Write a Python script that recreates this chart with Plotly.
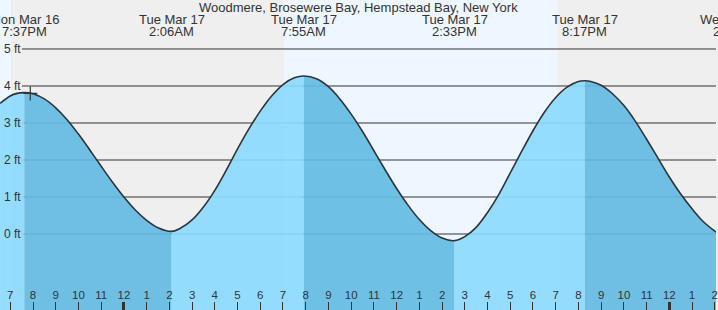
import plotly.graph_objects as go

TITLE = "Woodmere, Brosewere Bay, Hempstead Bay, New York"

# Tide height (ft); time in hours counted from Mon Mar 16 00:00
TIDE_HOURS = [18.55, 19.0, 19.3, 19.617, 20.0, 20.5, 21.0, 21.5, 22.0, 22.5, 23.0, 23.5,
              24.0, 24.5, 25.0, 25.5, 26.1,
              26.5, 27.0, 27.5, 28.0, 28.5, 29.0, 29.5, 30.0, 30.5, 31.0, 31.5, 31.917,
              32.5, 33.0, 33.5, 34.0, 34.5, 35.0, 35.5, 36.0, 36.5, 37.0, 37.5, 38.0, 38.55,
              39.0, 39.5, 40.0, 40.5, 41.0, 41.5, 42.0, 42.5, 43.0, 43.5, 44.0, 44.283,
              44.5, 45.0, 45.5, 46.0, 46.5, 47.0, 47.5, 48.0, 48.5, 49.0, 49.5, 50.1]
TIDE_FT = [3.53, 3.73, 3.80, 3.82, 3.79, 3.65, 3.41, 3.09, 2.70, 2.27, 1.83, 1.40,
           1.00, 0.65, 0.37, 0.17, 0.07,
           0.16, 0.38, 0.73, 1.18, 1.72, 2.30, 2.84, 3.32, 3.73, 4.04, 4.22, 4.27,
           4.19, 3.98, 3.65, 3.24, 2.77, 2.25, 1.73, 1.23, 0.78, 0.39, 0.09, -0.11, -0.18,
           -0.07, 0.18, 0.58, 1.07, 1.65, 2.23, 2.79, 3.29, 3.69, 3.97, 4.12, 4.14,
           4.13, 4.02, 3.79, 3.47, 3.05, 2.56, 2.05, 1.54, 1.08, 0.68, 0.33, 0.03]

# High / low tide events
EXTREME_HOURS = [19.617, 26.1, 31.917, 38.55, 44.283, 50.9]
EXTREME_DAY = ["Mon Mar 16", "Tue Mar 17", "Tue Mar 17", "Tue Mar 17", "Tue Mar 17", "Wed Mar 18"]
EXTREME_TIME = ["7:37PM", "2:06AM", "7:55AM", "2:33PM", "8:17PM", "2:54AM"]

# Daylight periods (sunrise, sunset) in hours
DAYLIGHT = [(7.08, 19.03), (31.05, 43.09)]

# Current-time marker
NOW_HOUR = 19.88
NOW_FT = 3.80

# Axis ticks
HOUR_TICKS = list(range(19, 51))
HOUR_LABELS = ["7", "8", "9", "10", "11", "12", "1", "2", "3", "4", "5", "6",
               "7", "8", "9", "10", "11", "12", "1", "2", "3", "4", "5", "6",
               "7", "8", "9", "10", "11", "12", "1", "2"]
MIDNIGHT_TICKS = [24, 48]
FT_TICKS = [0, 1, 2, 3, 4, 5]
FT_LABELS = ["0 ft", "1 ft", "2 ft", "3 ft", "4 ft", "5 ft"]

# View / style
X_RANGE = [18.548, 50.053]
Y_RANGE = [-2.054, 6.324]
W, H = 718, 310
GRID_START_PX = 22
RISING = "rgba(140,218,255,0.92)"
FALLING = "rgba(100,187,227,0.92)"
DAY_BG = "#eef6ff"
NIGHT_BG = "#efefef"
INK = "#333333"
FONT = "Liberation Sans, Arial, sans-serif"


def frac(t):
    return (t - X_RANGE[0]) / (X_RANGE[1] - X_RANGE[0])


fig = go.Figure()
layout_axes = {}

inside = [t for t in EXTREME_HOURS if X_RANGE[0] < t < X_RANGE[1]]
bounds = [X_RANGE[0]] + inside + [X_RANGE[1]]
floor = Y_RANGE[0] - 1
nseg = len(bounds) - 1
for k in range(nseg):
    axid = "x" if k == 0 else f"x{k + 1}"
    color = RISING if k % 2 == 0 else FALLING
    fig.add_trace(go.Scatter(x=[TIDE_HOURS[0], TIDE_HOURS[-1]], y=[floor, floor],
                             xaxis=axid, yaxis="y", mode="lines", line=dict(width=0),
                             hoverinfo="skip", showlegend=False))
    fig.add_trace(go.Scatter(x=TIDE_HOURS, y=TIDE_FT, xaxis=axid, yaxis="y", mode="lines",
                             line=dict(width=0, shape="spline", simplify=False),
                             fill="tonexty", fillcolor=color,
                             hoverinfo="skip", showlegend=False))
    name = "xaxis" if k == 0 else f"xaxis{k + 1}"
    layout_axes[name] = dict(domain=[frac(bounds[k]), frac(bounds[k + 1])],
                             range=[bounds[k], bounds[k + 1]], anchor="y",
                             visible=False, fixedrange=True)

main_id = nseg + 1
over_id = nseg + 2
main_ax = f"x{main_id}"
over_ax = f"x{over_id}"

fig.add_trace(go.Scatter(x=TIDE_HOURS, y=TIDE_FT, xaxis=main_ax, yaxis="y", mode="lines",
                         line=dict(color=INK, width=1.6, shape="spline", simplify=False),
                         hoverinfo="skip", showlegend=False))
fig.add_trace(go.Scatter(x=[NOW_HOUR], y=[NOW_FT], xaxis=over_ax, yaxis="y", mode="markers",
                         marker=dict(symbol="cross-thin", size=10, line=dict(color=INK, width=1.2)),
                         hoverinfo="skip", showlegend=False))

layout_axes[f"xaxis{main_id}"] = dict(
    domain=[0, 1], range=X_RANGE, anchor="y",
    tickmode="array", tickvals=HOUR_TICKS, ticktext=HOUR_LABELS,
    ticks="inside", ticklen=8, tickwidth=1, tickcolor=INK,
    ticklabelposition="inside", ticklabeloverflow="allow",
    tickfont=dict(size=11.5, color=INK, family=FONT),
    showgrid=False, zeroline=False, showline=False, fixedrange=True)
layout_axes[f"xaxis{over_id}"] = dict(
    overlaying=main_ax, range=X_RANGE, anchor="y",
    tickmode="array", tickvals=MIDNIGHT_TICKS, ticks="inside", ticklen=8,
    tickwidth=3, tickcolor=INK, showticklabels=False,
    showgrid=False, zeroline=False, showline=False, fixedrange=True)

shapes = []
for (a, b) in DAYLIGHT:
    shapes.append(dict(type="rect", xref=main_ax, yref="paper", x0=a, x1=b, y0=0, y1=1,
                       fillcolor=DAY_BG, line=dict(width=0), layer="below"))
for v in FT_TICKS:
    shapes.append(dict(type="line", xref="paper", yref="y", x0=GRID_START_PX / W, x1=1,
                       y0=v, y1=v, line=dict(color=INK, width=1), layer="below"))

ann = [dict(text=TITLE, xref="paper", yref="paper", x=0.5, y=1, yanchor="middle",
            yshift=-7, showarrow=False, font=dict(size=13, color=INK, family=FONT))]
for v, lab in zip(FT_TICKS, FT_LABELS):
    ann.append(dict(text=lab, xref="paper", yref="y", x=0, y=v, xanchor="left",
                    yanchor="middle", xshift=1.5, showarrow=False,
                    font=dict(size=12, color=INK, family=FONT)))
for t, d, tm in zip(EXTREME_HOURS, EXTREME_DAY, EXTREME_TIME):
    if X_RANGE[0] <= t <= X_RANGE[1]:
        xr, xv = main_ax, t
    else:
        xr, xv = "paper", frac(t)
    for txt, dy in ((d, -19.7), (tm, -31.5)):
        ann.append(dict(text=txt, xref=xr, yref="paper", x=xv, y=1, xanchor="center",
                        yanchor="middle", yshift=dy, showarrow=False,
                        font=dict(size=13, color=INK, family=FONT)))

fig.update_layout(
    width=W, height=H, margin=dict(l=0, r=0, t=0, b=0, pad=0),
    paper_bgcolor=NIGHT_BG, plot_bgcolor="rgba(0,0,0,0)",
    showlegend=False, shapes=shapes, annotations=ann,
    yaxis=dict(domain=[0, 1], range=Y_RANGE, visible=False, fixedrange=True, anchor=main_ax),
    font=dict(family=FONT, color=INK),
    **layout_axes,
)

fig.write_html("out.html", config={"displayModeBar": False, "staticPlot": True})
